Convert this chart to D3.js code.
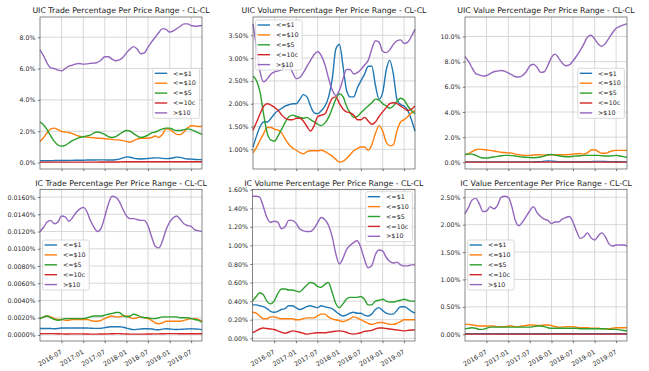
<!DOCTYPE html>
<html>
<head>
<meta charset="utf-8">
<script src="https://cdn.jsdelivr.net/npm/d3@7"></script>
<style>
  body { margin: 0; background: #fff; }
  svg text { font-family: "DejaVu Sans", sans-serif; }
</style>
</head>
<body>
<svg id="chart" width="649" height="371"></svg>
<script>
// monthly sample points, Jan 2016 .. Oct 2019
const months = d3.timeMonth.range(new Date(2016, 0, 1), new Date(2019, 10, 1));
const xTicks = d3.timeMonth.range(new Date(2016, 6, 1), new Date(2019, 10, 1), 6);

const seriesNames = ["<=$1", "<=$10", "<=$5", "<=10c", ">$10"];
const seriesColors = ["#1f77b4", "#ff7f0e", "#2ca02c", "#d62728", "#9467bd"];

// UIC trade (%)
const uicTradeLe1 = [0.12,0.12,0.12,0.12,0.13,0.13,0.13,0.13,0.14,0.14, 0.15,0.15,0.15,0.16,0.16,0.16,0.17,0.17,0.17,0.16, 0.16,0.18,0.22,0.3,0.36,0.34,0.28,0.24,0.23,0.24, 0.26,0.28,0.3,0.3,0.27,0.25,0.26,0.3,0.35,0.33, 0.27,0.23,0.22,0.2,0.19,0.18];
const uicTradeLe10 = [1.35,1.6,1.9,2.15,2.2,2.1,1.98,1.95,1.92,1.85, 1.75,1.68,1.65,1.62,1.6,1.58,1.55,1.55,1.52,1.5, 1.48,1.45,1.45,1.4,1.35,1.3,1.4,1.5,1.55,1.55, 1.55,1.6,1.7,1.6,1.8,2.15,2.1,1.95,1.8,1.78, 1.95,2.2,2.35,2.33,2.3,2.3];
const uicTradeLe5 = [2.6,2.4,2.1,1.7,1.35,1.12,1.05,1.1,1.25,1.4, 1.5,1.6,1.65,1.7,1.75,1.9,1.95,1.9,1.8,1.65, 1.6,1.65,1.8,1.95,2.05,2.0,1.85,1.7,1.6,1.65, 1.75,1.9,1.95,2.05,2.15,2.2,2.2,2.1,2.05,2.05, 2.1,2.15,2.1,2.0,1.9,1.8];
const uicTradeLe10c = [0.03,0.03,0.03,0.03,0.03,0.03,0.03,0.03,0.03,0.03, 0.03,0.03,0.03,0.03,0.03,0.03,0.03,0.04,0.04,0.04, 0.04,0.04,0.04,0.05,0.05,0.05,0.05,0.05,0.05,0.05, 0.05,0.05,0.05,0.05,0.05,0.05,0.05,0.05,0.05,0.05, 0.05,0.05,0.05,0.05,0.05,0.05];
const uicTradeGt10 = [7.2,6.8,6.35,6.05,6.0,5.9,5.85,6.0,6.15,6.22, 6.3,6.32,6.28,6.3,6.33,6.35,6.4,6.55,6.75,6.75, 6.6,6.5,6.55,6.7,7.0,7.25,7.4,7.25,6.95,7.0, 7.35,7.7,8.0,8.3,8.55,8.5,8.33,8.4,8.55,8.7, 8.85,8.85,8.75,8.7,8.72,8.75];

// UIC volume (%)
const uicVolumeLe1 = [1.05,1.3,1.5,1.6,1.6,1.68,1.78,1.85,1.9,1.95, 1.98,2.0,2.0,2.1,2.2,2.15,1.95,1.8,1.78,1.85, 1.95,2.15,2.55,3.2,3.3,2.8,2.3,2.15,2.15,2.35, 2.5,2.65,2.82,2.82,2.4,2.1,2.25,2.75,2.95,2.65, 2.1,1.98,1.95,1.85,1.65,1.4];
const uicVolumeLe10 = [0.92,1.05,1.2,1.35,1.48,1.48,1.44,1.42,1.35,1.22, 1.1,1.03,0.98,0.93,0.9,0.95,0.97,0.97,0.97,0.98, 0.95,0.9,0.85,0.78,0.72,0.74,0.8,0.88,0.97,1.02, 1.05,1.05,0.98,1.1,1.35,1.52,1.4,1.15,1.08,1.1, 1.4,1.6,1.65,1.72,1.8,1.85];
const uicVolumeLe5 = [2.6,2.5,2.25,1.75,1.35,1.2,1.18,1.3,1.45,1.6, 1.72,1.75,1.72,1.7,1.68,1.7,1.65,1.6,1.55,1.52, 1.58,1.7,1.9,2.1,2.22,2.15,1.95,1.8,1.7,1.72, 1.8,1.88,1.95,2.02,2.1,2.08,2.0,1.95,1.9,1.95, 2.05,2.12,2.08,1.95,1.85,1.78];
const uicVolumeLe10c = [1.42,1.6,1.78,1.95,2.0,1.97,1.92,1.85,1.75,1.68, 1.65,1.65,1.68,1.68,1.62,1.5,1.4,1.52,1.72,1.75, 1.78,1.95,2.12,2.15,2.0,1.88,1.82,1.8,1.75,1.65, 1.65,1.7,1.62,1.55,1.6,1.72,1.82,1.92,2.0,2.02, 2.0,1.95,1.9,1.85,1.88,1.95];
const uicVolumeGt10 = [3.75,3.2,2.7,2.48,2.55,2.65,2.7,2.72,2.75,2.85, 2.82,2.68,2.55,2.58,2.68,2.82,2.95,3.08,3.14,3.05, 2.85,2.55,2.3,2.18,2.3,2.55,2.75,2.75,2.65,2.68, 2.75,2.85,2.95,3.2,3.38,3.35,3.15,3.12,3.18,3.3, 3.38,3.4,3.32,3.35,3.48,3.63];

// UIC value (%)
const uicValueLe1 = [0.04,0.04,0.04,0.04,0.04,0.04,0.04,0.04,0.04,0.04, 0.04,0.04,0.04,0.04,0.04,0.04,0.04,0.04,0.04,0.04, 0.05,0.06,0.09,0.11,0.1,0.07,0.05,0.05,0.05,0.05, 0.05,0.05,0.05,0.05,0.05,0.06,0.07,0.08,0.08,0.07, 0.06,0.05,0.05,0.05,0.04,0.04];
const uicValueLe10 = [0.6,0.7,0.85,1.0,1.05,1.02,0.98,0.95,0.9,0.85, 0.8,0.78,0.75,0.73,0.65,0.6,0.57,0.55,0.55,0.58, 0.6,0.6,0.58,0.58,0.6,0.6,0.6,0.6,0.6,0.62, 0.65,0.68,0.7,0.65,0.75,0.98,1.0,0.85,0.72,0.72, 0.82,0.92,0.95,0.95,0.95,0.95];
const uicValueLe5 = [0.62,0.65,0.65,0.55,0.42,0.35,0.35,0.38,0.42,0.47, 0.52,0.55,0.55,0.53,0.5,0.45,0.42,0.4,0.38,0.37, 0.38,0.42,0.5,0.6,0.62,0.58,0.52,0.48,0.45,0.45, 0.48,0.5,0.52,0.55,0.55,0.55,0.55,0.55,0.52,0.5, 0.5,0.52,0.55,0.5,0.45,0.4];
const uicValueLe10c = [0.02,0.02,0.02,0.02,0.02,0.02,0.02,0.02,0.02,0.02, 0.02,0.02,0.02,0.02,0.02,0.02,0.02,0.02,0.02,0.02, 0.02,0.02,0.02,0.02,0.02,0.02,0.02,0.02,0.02,0.02, 0.02,0.02,0.02,0.02,0.02,0.02,0.02,0.02,0.02,0.02, 0.02,0.02,0.02,0.02,0.02,0.02];
const uicValueGt10 = [8.4,8.0,7.5,7.05,6.95,6.85,6.9,7.05,7.2,7.25, 7.3,7.25,7.1,6.95,6.8,6.78,6.9,7.2,7.65,7.8, 7.55,7.15,7.2,7.7,8.35,8.6,8.3,7.9,7.68,7.75, 8.05,8.45,8.9,9.4,9.95,10.1,9.8,9.4,9.22,9.45, 9.85,10.3,10.65,10.8,10.92,11.0];

// IC trade (%)
const icTradeLe1 = [0.00075,0.00075,0.00075,0.00075,0.00072,0.00075,0.0008,0.0008,0.0008,0.0008, 0.0008,0.0008,0.0008,0.0008,0.00078,0.00076,0.00076,0.00078,0.00085,0.00092, 0.00095,0.00095,0.00095,0.0009,0.0008,0.00068,0.00062,0.00065,0.0007,0.00072, 0.00072,0.0007,0.00062,0.0006,0.00068,0.00072,0.0007,0.00065,0.00063,0.00065, 0.00068,0.0007,0.00072,0.0007,0.00068,0.00062];
const icTradeLe10 = [0.0019,0.0021,0.0022,0.0021,0.0019,0.0018,0.0018,0.0017,0.0017,0.0018, 0.0018,0.0018,0.0018,0.0018,0.0017,0.0016,0.0016,0.0017,0.0019,0.0021, 0.0022,0.0021,0.0021,0.0022,0.0022,0.0020,0.0019,0.0020,0.0021,0.0020, 0.0019,0.0017,0.0014,0.0013,0.0014,0.0016,0.0016,0.0016,0.0016,0.0016, 0.0017,0.0018,0.0019,0.0019,0.0018,0.0016];
const icTradeLe5 = [0.0019,0.0021,0.0022,0.0020,0.0018,0.0017,0.0018,0.0019,0.0019,0.0019, 0.0019,0.0019,0.0019,0.0020,0.0021,0.0022,0.0022,0.0022,0.0023,0.0024, 0.0025,0.0026,0.0026,0.0023,0.0021,0.0022,0.0024,0.0023,0.0021,0.0020, 0.0020,0.0019,0.0019,0.0020,0.0021,0.0021,0.0021,0.0021,0.0021,0.0020, 0.0020,0.0020,0.0019,0.0018,0.0017,0.0015];
const icTradeLe10c = [0.00014,0.00015,0.00016,0.00016,0.00015,0.00014,0.00013,0.00012,0.00012,0.00013, 0.00013,0.00013,0.00012,0.00011,0.0001,0.0001,0.0001,0.00011,0.00012,0.00013, 0.00014,0.00015,0.00015,0.00013,0.00011,0.0001,0.0001,0.0001,0.0001,0.0001, 0.00011,0.00012,0.00013,0.00013,0.00014,0.00015,0.00015,0.00015,0.00015,0.00014, 0.00014,0.00014,0.00014,0.00014,0.00014,0.00014];
const icTradeGt10 = [0.0120,0.0125,0.0131,0.0133,0.0129,0.0131,0.0138,0.0137,0.0132,0.0136, 0.0142,0.0146,0.0148,0.0143,0.0133,0.0125,0.0120,0.0124,0.0137,0.0152, 0.0161,0.0160,0.0155,0.0146,0.0138,0.0135,0.0135,0.0134,0.0133,0.0133, 0.0127,0.0114,0.0103,0.0101,0.0109,0.0122,0.0131,0.0136,0.0138,0.0134, 0.0129,0.0127,0.0126,0.0122,0.0121,0.0120];

// IC volume (%)
const icVolumeLe1 = [0.36,0.36,0.35,0.34,0.32,0.29,0.28,0.29,0.31,0.32, 0.35,0.35,0.33,0.31,0.32,0.34,0.35,0.34,0.33,0.35, 0.34,0.33,0.32,0.29,0.26,0.24,0.25,0.27,0.28,0.27, 0.27,0.25,0.24,0.26,0.31,0.33,0.3,0.27,0.26,0.26, 0.3,0.34,0.34,0.32,0.29,0.27];
const icVolumeLe10 = [0.28,0.27,0.24,0.21,0.21,0.23,0.23,0.22,0.21,0.21, 0.21,0.21,0.2,0.2,0.21,0.22,0.22,0.22,0.24,0.26, 0.26,0.23,0.21,0.2,0.19,0.18,0.19,0.21,0.23,0.22, 0.2,0.18,0.16,0.15,0.16,0.17,0.17,0.16,0.15,0.15, 0.16,0.18,0.2,0.2,0.2,0.2];
const icVolumeLe5 = [0.4,0.45,0.49,0.47,0.4,0.37,0.4,0.48,0.53,0.53, 0.52,0.52,0.51,0.5,0.53,0.57,0.6,0.59,0.56,0.55, 0.58,0.6,0.5,0.38,0.33,0.37,0.42,0.44,0.44,0.44, 0.45,0.42,0.36,0.36,0.4,0.41,0.42,0.4,0.39,0.39, 0.4,0.41,0.42,0.41,0.4,0.4];
const icVolumeLe10c = [0.06,0.08,0.1,0.11,0.105,0.1,0.095,0.08,0.065,0.055, 0.065,0.08,0.075,0.065,0.055,0.045,0.05,0.055,0.06,0.06, 0.06,0.065,0.07,0.075,0.08,0.075,0.065,0.05,0.045,0.05, 0.06,0.075,0.08,0.085,0.1,0.11,0.11,0.105,0.1,0.095, 0.09,0.085,0.08,0.085,0.09,0.09];
const icVolumeGt10 = [1.53,1.53,1.52,1.42,1.3,1.25,1.26,1.25,1.18,1.2, 1.27,1.27,1.24,1.18,1.16,1.15,1.15,1.18,1.24,1.3, 1.28,1.22,1.1,0.92,0.8,0.86,0.95,1.0,1.03,1.05, 0.98,0.85,0.76,0.78,0.9,0.95,0.94,0.87,0.83,0.81, 0.82,0.79,0.78,0.78,0.79,0.79];

// IC value (%)
const icValueLe1 = [0.01,0.01,0.01,0.01,0.01,0.01,0.01,0.01,0.01,0.01, 0.01,0.01,0.01,0.01,0.01,0.01,0.01,0.01,0.01,0.01, 0.01,0.01,0.01,0.01,0.01,0.01,0.01,0.01,0.01,0.01, 0.01,0.01,0.01,0.01,0.01,0.01,0.01,0.01,0.01,0.01, 0.01,0.01,0.01,0.01,0.01,0.01];
const icValueLe10 = [0.18,0.18,0.17,0.16,0.15,0.15,0.15,0.15,0.15,0.14, 0.14,0.14,0.15,0.15,0.14,0.14,0.15,0.16,0.17,0.17, 0.16,0.16,0.17,0.17,0.16,0.14,0.13,0.13,0.14,0.14, 0.14,0.13,0.12,0.12,0.12,0.11,0.11,0.11,0.1,0.1, 0.1,0.11,0.12,0.12,0.12,0.12];
const icValueLe5 = [0.1,0.11,0.12,0.11,0.09,0.09,0.11,0.13,0.13,0.13, 0.13,0.13,0.13,0.13,0.13,0.13,0.13,0.13,0.13,0.14, 0.15,0.15,0.14,0.12,0.11,0.11,0.11,0.11,0.11,0.11, 0.11,0.11,0.1,0.1,0.1,0.1,0.1,0.1,0.1,0.1, 0.09,0.09,0.09,0.08,0.07,0.06];
const icValueLe10c = [0.003,0.003,0.003,0.003,0.003,0.003,0.003,0.003,0.003,0.003, 0.003,0.003,0.003,0.003,0.003,0.003,0.003,0.003,0.003,0.003, 0.003,0.003,0.003,0.003,0.003,0.003,0.003,0.003,0.003,0.003, 0.003,0.003,0.003,0.003,0.003,0.003,0.003,0.003,0.003,0.003, 0.003,0.003,0.003,0.003,0.003,0.003];
const icValueGt10 = [2.2,2.32,2.45,2.48,2.38,2.24,2.25,2.33,2.29,2.35, 2.5,2.52,2.5,2.32,2.08,1.98,2.05,2.15,2.25,2.33, 2.22,2.15,2.1,2.08,2.02,2.05,2.05,2.1,2.13,2.15, 2.05,1.88,1.75,1.78,1.85,1.76,1.72,1.8,1.85,1.78, 1.65,1.61,1.63,1.63,1.63,1.61];

const panels = [
  { title: "UIC Trade Percentage Per Price Range - CL-CL",
    series: [uicTradeLe1, uicTradeLe10, uicTradeLe5, uicTradeLe10c, uicTradeGt10],
    box: { left: 40, right: 202, top: 17, bottom: 169 }, step: 2, digits: 1,
    legend: { side: "right", dy: 51.3 }, xLabels: false },
  { title: "UIC Volume Percentage Per Price Range - CL-CL",
    series: [uicVolumeLe1, uicVolumeLe10, uicVolumeLe5, uicVolumeLe10c, uicVolumeGt10],
    box: { left: 253, right: 415, top: 17, bottom: 169 }, step: 0.5, digits: 2,
    legend: { side: "left", dy: 3 }, xLabels: false },
  { title: "UIC Value Percentage Per Price Range - CL-CL",
    series: [uicValueLe1, uicValueLe10, uicValueLe5, uicValueLe10c, uicValueGt10],
    box: { left: 465, right: 627, top: 17, bottom: 169 }, step: 2, digits: 1,
    legend: { side: "right", dy: 51.3 }, xLabels: false },
  { title: "IC Trade Percentage Per Price Range - CL-CL",
    series: [icTradeLe1, icTradeLe10, icTradeLe5, icTradeLe10c, icTradeGt10],
    box: { left: 40, right: 202, top: 189.3, bottom: 341 }, step: 0.002, digits: 4,
    legend: { side: "left", dy: 50.7 }, xLabels: true },
  { title: "IC Volume Percentage Per Price Range - CL-CL",
    series: [icVolumeLe1, icVolumeLe10, icVolumeLe5, icVolumeLe10c, icVolumeGt10],
    box: { left: 252.5, right: 415, top: 189.3, bottom: 341 }, step: 0.2, digits: 2,
    legend: { side: "right", dy: 2.4 }, xLabels: true },
  { title: "IC Value Percentage Per Price Range - CL-CL",
    series: [icValueLe1, icValueLe10, icValueLe5, icValueLe10c, icValueGt10],
    box: { left: 465, right: 627, top: 189.3, bottom: 341 }, step: 0.5, digits: 2,
    legend: { side: "left", dy: 50.7 }, xLabels: true }
];

const svg = d3.select("#chart");
const tickFont = 6.3, titleFont = 7.8;

panels.forEach(p => {
  const b = p.box;
  const g = svg.append("g");

  // y range padded 5% like matplotlib
  const all = p.series.flat();
  const lo = d3.min(all), hi = d3.max(all), pad = (hi - lo) * 0.05;
  const x = d3.scaleTime().domain([months[0], months[months.length - 1]]).range([b.left, b.right]);
  const y = d3.scaleLinear().domain([lo - pad, hi + pad]).range([b.bottom, b.top]);

  const yTicks = d3.range(Math.ceil((lo - pad) / p.step - 1e-9), Math.floor((hi + pad) / p.step + 1e-9) + 1)
    .map(i => +(i * p.step).toFixed(6));

  // grid
  g.append("g").selectAll("line").data(yTicks).join("line")
    .attr("x1", b.left).attr("x2", b.right)
    .attr("y1", d => y(d)).attr("y2", d => y(d))
    .attr("stroke", "#d4d4d4").attr("stroke-width", 0.9);
  g.append("g").selectAll("line").data(xTicks).join("line")
    .attr("x1", d => x(d)).attr("x2", d => x(d))
    .attr("y1", b.top).attr("y2", b.bottom)
    .attr("stroke", "#d4d4d4").attr("stroke-width", 0.9);

  // lines
  const line = d3.line()
    .x((d, i) => x(months[i]))
    .y(d => y(d))
    .curve(d3.curveMonotoneX);

  p.series.forEach((s, k) => {
    g.append("path")
      .datum(s)
      .attr("d", line)
      .attr("fill", "none")
      .attr("stroke", seriesColors[k])
      .attr("stroke-width", 1.4);
  });

  // frame
  g.append("rect")
    .attr("x", b.left).attr("y", b.top)
    .attr("width", b.right - b.left).attr("height", b.bottom - b.top)
    .attr("fill", "none").attr("stroke", "#555").attr("stroke-width", 0.7);

  // y axis
  const yAxis = g.append("g")
    .attr("transform", `translate(${b.left},0)`)
    .call(d3.axisLeft(y).tickValues(yTicks).tickSize(2.2).tickPadding(2.2)
      .tickFormat(d => d.toFixed(p.digits) + "%"));
  yAxis.select(".domain").remove();
  yAxis.selectAll("line").attr("stroke", "#444").attr("stroke-width", 0.7);
  yAxis.selectAll("text").attr("font-size", tickFont).attr("fill", "#262626")
    .attr("font-family", "DejaVu Sans");

  // x axis
  const xAxis = g.append("g")
    .attr("transform", `translate(0,${b.bottom})`)
    .call(d3.axisBottom(x).tickValues(xTicks).tickSize(2.2).tickPadding(2.2)
      .tickFormat(p.xLabels ? d3.timeFormat("%Y-%m") : () => ""));
  xAxis.select(".domain").remove();
  xAxis.selectAll("line").attr("stroke", "#444").attr("stroke-width", 0.7);
  if (p.xLabels) {
    // rotated 30 degrees, right end hanging under the tick
    xAxis.selectAll("text")
      .attr("font-size", tickFont).attr("fill", "#262626")
      .attr("font-family", "DejaVu Sans")
      .style("text-anchor", "end")
      .attr("x", 0).attr("y", 0).attr("dy", 0)
      .attr("transform", "translate(0.5,12.3) rotate(-30)");
  }

  // title
  g.append("text")
    .attr("x", (b.left + b.right) / 2)
    .attr("y", b.top - 3.8)
    .attr("text-anchor", "middle")
    .attr("font-size", titleFont)
    .attr("fill", "#1a1a1a")
    .text(p.title);

  // legend
  const lw = 46.6, lh = 50, row = 9.9;
  const lx = p.legend.side === "right" ? b.right - 2.6 - lw : b.left + 2.6;
  const ly = b.top + p.legend.dy;
  const leg = g.append("g").attr("transform", `translate(${lx},${ly})`);
  leg.append("rect")
    .attr("width", lw).attr("height", lh).attr("rx", 1.5)
    .attr("fill", "#fff").attr("fill-opacity", 0.8)
    .attr("stroke", "#cccccc").attr("stroke-width", 0.7);
  seriesNames.forEach((name, k) => {
    const cy = 5 + row * k;
    leg.append("line")
      .attr("x1", 2).attr("x2", 14.4).attr("y1", cy).attr("y2", cy)
      .attr("stroke", seriesColors[k]).attr("stroke-width", 1.4);
    leg.append("text")
      .attr("x", 20.3).attr("y", cy).attr("dy", "0.35em")
      .attr("font-size", tickFont).attr("fill", "#262626")
      .text(name);
  });
});
</script>
</body>
</html>
